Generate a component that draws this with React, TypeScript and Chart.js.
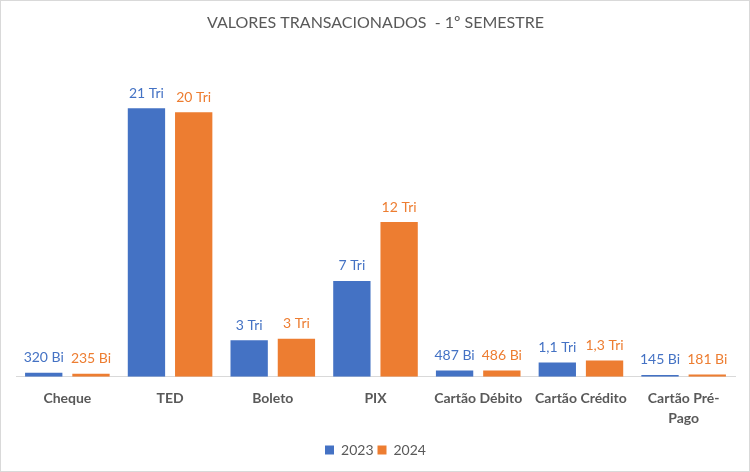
import React, { useEffect, useRef } from "react";
import { Chart, registerables } from "chart.js";

Chart.register(...registerables);

const categories: (string | string[])[] = [
  "Cheque",
  "TED",
  "Boleto",
  "PIX",
  "Cartão Débito",
  "Cartão Crédito",
  ["Cartão Pré-", "Pago"],
];

// values in billions (Bi)
const values2023 = [320, 21000, 2850, 7500, 487, 1120, 145];
const values2024 = [235, 20700, 2980, 12100, 486, 1280, 181];

const labels2023 = ["320 Bi", "21 Tri", "3 Tri", "7 Tri", "487 Bi", "1,1 Tri", "145 Bi"];
const labels2024 = ["235 Bi", "20 Tri", "3 Tri", "12 Tri", "486 Bi", "1,3 Tri", "181 Bi"];

const seriesNames = ["2023", "2024"];
const titleText = "VALORES TRANSACIONADOS  - 1º SEMESTRE";

const BLUE = "#4472C4";
const ORANGE = "#ED7D31";
const GREY = "#595959";
const FONT = "Lato, 'Open Sans', sans-serif";

const dataLabelPlugin = {
  id: "dataLabels",
  afterDatasetsDraw(chart: any) {
    const ctx = chart.ctx;
    const textSets = [labels2023, labels2024];
    ctx.save();
    ctx.font = `14px ${FONT}`;
    ctx.textAlign = "center";
    ctx.textBaseline = "middle";
    chart.data.datasets.forEach((ds: any, di: number) => {
      const meta = chart.getDatasetMeta(di);
      ctx.fillStyle = ds.backgroundColor;
      meta.data.forEach((bar: any, i: number) => {
        ctx.fillText(textSets[di][i], bar.x, bar.y - 15);
      });
    });
    ctx.restore();
  },
};

const borderPlugin = {
  id: "outerBorder",
  afterDraw(chart: any) {
    const ctx = chart.ctx;
    ctx.save();
    ctx.strokeStyle = "#d9d9d9";
    ctx.lineWidth = 1;
    ctx.strokeRect(0.5, 0.5, chart.width - 1, chart.height - 1);
    ctx.restore();
  },
};

export default function App() {
  const ref = useRef<HTMLCanvasElement | null>(null);

  useEffect(() => {
    if (!ref.current) return;
    const chart = new Chart(ref.current, {
      type: "bar",
      data: {
        labels: categories,
        datasets: [
          {
            label: seriesNames[0],
            data: values2023,
            backgroundColor: BLUE,
            categoryPercentage: 0.92,
            barPercentage: 0.79,
          },
          {
            label: seriesNames[1],
            data: values2024,
            backgroundColor: ORANGE,
            categoryPercentage: 0.92,
            barPercentage: 0.79,
          },
        ],
      },
      options: {
        animation: false,
        responsive: true,
        maintainAspectRatio: false,
        layout: { padding: { left: 16, right: 15, top: 0, bottom: 5 } },
        plugins: {
          title: {
            display: true,
            text: titleText,
            color: GREY,
            font: { family: FONT, size: 16, weight: "normal" },
            padding: { top: 13, bottom: 21 },
          },
          legend: {
            position: "bottom",
            labels: {
              color: GREY,
              font: { family: FONT, size: 14 },
              boxWidth: 9,
              boxHeight: 9,
              padding: 4,
            },
          },
          tooltip: { enabled: false },
        },
        scales: {
          x: {
            grid: { display: false },
            border: { display: true, color: "#d9d9d9" },
            ticks: {
              color: GREY,
              font: { family: FONT, size: 14, weight: "bold", lineHeight: 1.4 },
              padding: 4,
              maxRotation: 0,
              autoSkip: false,
            },
            afterFit: (scale: any) => {
              scale.height += 7;
            },
          },
          y: {
            display: false,
            min: 0,
            max: 25310,
          },
        },
      },
      plugins: [dataLabelPlugin, borderPlugin],
    });
    return () => chart.destroy();
  }, []);

  return (
    <div style={{ position: "fixed", left: 0, top: 0, width: 750, height: 472, background: "#fff" }}>
      <canvas ref={ref} />
    </div>
  );
}
